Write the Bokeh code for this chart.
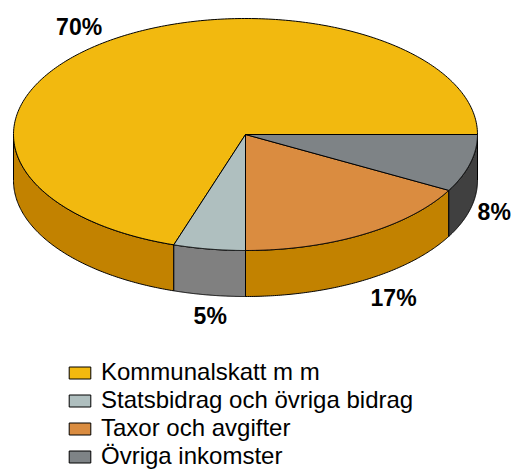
import numpy as np
from bokeh.plotting import figure
from bokeh.models import Range1d, Legend, LegendItem, ColumnDataSource
from bokeh.embed import file_html
from bokeh.resources import INLINE
from bokeh.core.properties import value

# ---- data ----
categories = ["Kommunalskatt m m", "Statsbidrag och övriga bidrag",
              "Taxor och avgifter", "Övriga inkomster"]
shares = [70, 5, 17, 8]
labels = ["70%", "5%", "17%", "8%"]
top_colors = ["#F2B90F", "#AFBFBF", "#DA8C40", "#7E8386"]
side_colors = ["#C28200", "#808080", "#C28200", "#404040"]

# ---- layout (screen pixels) ----
W, H = 512, 470
CX, CY, RX, RY, DEPTH = 245, 134, 232, 116, 46
label_nudge = [(-30, -14), (1, 21), (30, 18), (24, 3)]


def ell(t):
    return CX + RX * np.cos(t), CY - RY * np.sin(t)


p = figure(width=W, height=H, output_backend="svg", toolbar_location=None,
           x_range=Range1d(0, W), y_range=Range1d(H, 0),
           min_border=0, background_fill_color="white")
p.axis.visible = False
p.grid.visible = False
p.outline_line_color = None

fr = np.array(shares, dtype=float) / sum(shares)
ends = np.cumsum(fr) * 2 * np.pi
starts = np.concatenate([[0.0], ends[:-1]])

# side walls (front half: angles pi..2pi)
for i in range(len(shares)):
    a = max(starts[i], np.pi)
    b = min(ends[i], 2 * np.pi)
    if b <= a:
        continue
    t = np.linspace(a, b, 120)
    x, y = ell(t)
    xs = np.concatenate([x, x[::-1]])
    ys = np.concatenate([y, (y + DEPTH)[::-1]])
    p.patch(xs, ys, fill_color=side_colors[i], line_color="black",
            line_width=1, line_join="round")

# tops
top_renderers = []
for i in range(len(shares)):
    t = np.linspace(starts[i], ends[i], 300)
    x, y = ell(t)
    xs = np.concatenate([[CX], x])
    ys = np.concatenate([[CY], y])
    r = p.patch(xs, ys, fill_color=top_colors[i], line_color="black",
                line_width=1, line_join="round")
    top_renderers.append(r)

# percentage labels
mids = (starts + ends) / 2
lx, ly = [], []
for i, m in enumerate(mids):
    ex, ey = ell(m)
    if np.sin(m) < 0:
        ey += DEPTH
    lx.append(ex + label_nudge[i][0])
    ly.append(ey + label_nudge[i][1])
src = ColumnDataSource(dict(x=lx, y=ly, text=labels))
p.text(x="x", y="y", text="text", source=src, text_align="center",
       text_baseline="middle", text_font=value("Liberation Sans"),
       text_font_style="bold", text_font_size="23px", text_color="black")

legend = Legend(items=[LegendItem(label=c, renderers=[r])
                       for c, r in zip(categories, top_renderers)],
                location=(66, 0), orientation="vertical",
                glyph_width=27, glyph_height=15, label_height=22,
                label_standoff=8, spacing=0, padding=0, margin=0,
                label_text_font="Liberation Sans", label_text_font_size="24px",
                label_text_color="black", border_line_alpha=0,
                background_fill_alpha=0)
p.add_layout(legend)

open("out.html", "w").write(file_html(p, INLINE))
